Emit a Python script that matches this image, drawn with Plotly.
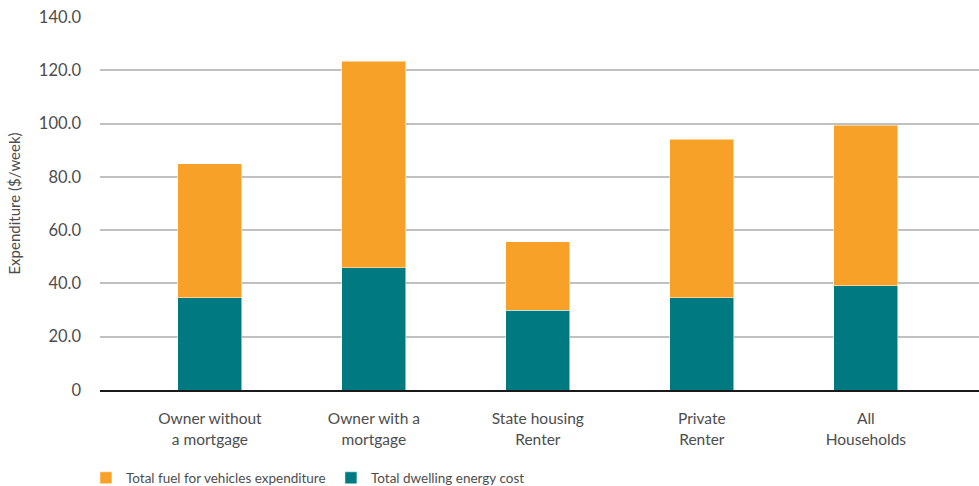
import plotly.graph_objects as go

categories = ["Owner without<br>a mortgage", "Owner with a<br>mortgage", "State housing<br>Renter",
              "Private<br>Renter", "All<br>Households"]
dwelling_energy = [34.6, 45.8, 30.0, 34.6, 39.2]
vehicle_fuel = [50.4, 77.6, 25.6, 59.5, 60.1]
tick_vals = [0, 20, 40, 60, 80, 100, 120, 140]
tick_text = ["0", "20.0", "40.0", "60.0", "80.0", "100.0", "120.0", "140.0"]

FONT = "Lato"
TEXT = "#4d4d4d"
TEAL = "#007A80"
ORANGE = "#F8A128"

fig = go.Figure()
fig.add_trace(go.Bar(
    x=list(range(len(categories))), y=dwelling_energy, name="Total dwelling energy cost",
    marker=dict(color=TEAL, line=dict(color="rgba(255,255,255,0.5)", width=1)),
    width=0.39,
))
fig.add_trace(go.Bar(
    x=list(range(len(categories))), y=vehicle_fuel, name="Total fuel for vehicles expenditure",
    marker=dict(color=ORANGE, line=dict(color="rgba(255,255,255,0.5)", width=1)),
    width=0.39,
))

fig.update_layout(
    barmode="stack",
    width=979, height=486,
    margin=dict(l=100, r=0, t=17, b=96, autoexpand=False),
    paper_bgcolor="white", plot_bgcolor="white",
    font=dict(family=FONT, color=TEXT, size=14),
    showlegend=True,
    legend=dict(
        orientation="h", traceorder="reversed",
        x=-0.016, xanchor="left", y=-0.236, yanchor="middle",
        font=dict(size=13.5, color=TEXT),
        itemwidth=30, entrywidth=200,
    ),
    xaxis=dict(
        range=[-0.67, 4.69],
        tickmode="array", tickvals=list(range(len(categories))), ticktext=categories,
        showline=True, linecolor="#1a1a1a", linewidth=1.5,
        showgrid=False, ticks="", tickfont=dict(size=15.5, color=TEXT),
        ticklabelstandoff=14,
        zeroline=False,
    ),
    yaxis=dict(
        range=[0, 140],
        tickmode="array", tickvals=tick_vals, ticktext=tick_text,
        showgrid=True, gridcolor="#c0c0c0", gridwidth=1.5,
        zeroline=False, ticks="", ticklabelstandoff=18,
        tickfont=dict(size=16.5, color=TEXT),
        title=dict(text="Expenditure ($/week)", font=dict(size=15, color=TEXT), standoff=14),
    ),
)

fig.write_html("out.html")
